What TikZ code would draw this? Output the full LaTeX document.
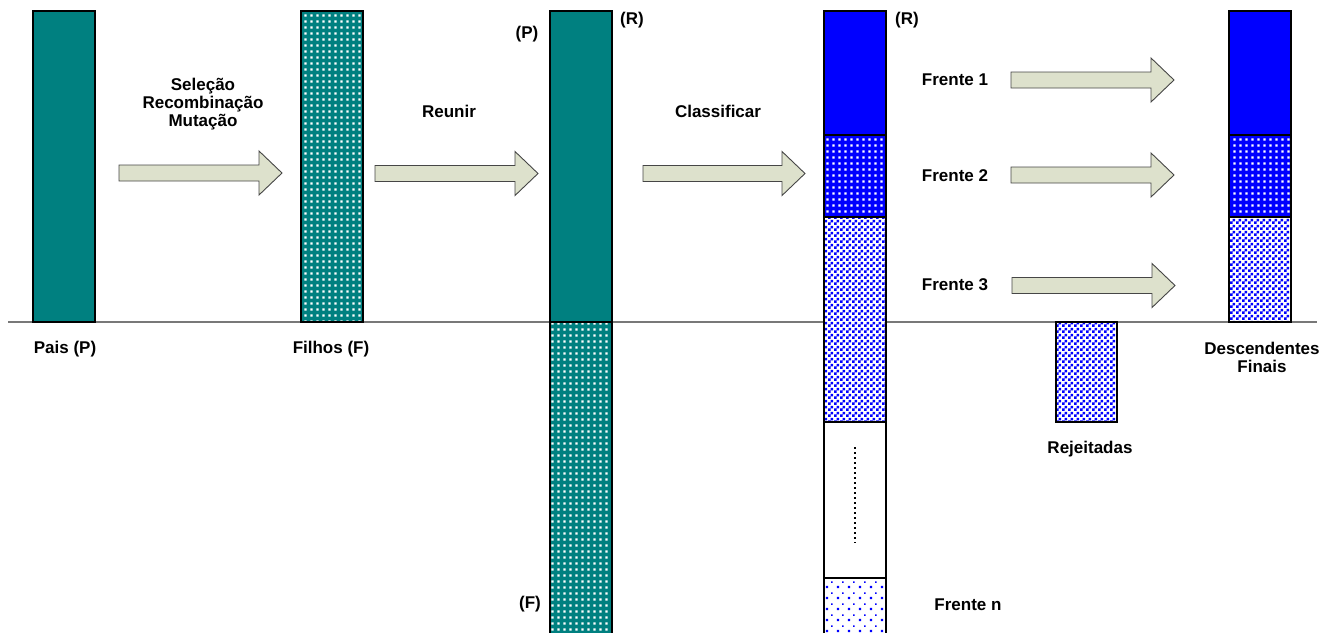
\documentclass[tikz,border=0pt]{standalone}
\usepackage{fontspec}
\setmainfont{Liberation Sans}
\usetikzlibrary{patterns}

\definecolor{parentteal}{RGB}{0,128,128}
\definecolor{frontblue}{RGB}{0,0,255}
\definecolor{arrowfill}{RGB}{221,225,204}
\definecolor{arrowline}{RGB}{70,70,70}
\definecolor{axisgray}{RGB}{120,120,120}

% fill patterns for the populations
\pgfdeclarepatternformonly{whitegrid}{\pgfqpoint{0pt}{0pt}}{\pgfqpoint{5.5pt}{5.5pt}}{\pgfqpoint{5.5pt}{5.5pt}}{%
  \pgfpathrectangle{\pgfqpoint{1.5pt}{1.5pt}}{\pgfqpoint{2.5pt}{2.5pt}}\pgfusepath{fill}}
\pgfdeclarepatternformonly{bluechecker}{\pgfqpoint{0pt}{0pt}}{\pgfqpoint{6pt}{6pt}}{\pgfqpoint{6pt}{6pt}}{%
  \pgfpathrectangle{\pgfqpoint{0pt}{0pt}}{\pgfqpoint{3pt}{3pt}}%
  \pgfpathrectangle{\pgfqpoint{3pt}{3pt}}{\pgfqpoint{3pt}{3pt}}\pgfusepath{fill}}
\pgfdeclarepatternformonly{sparsedots}{\pgfqpoint{0pt}{0pt}}{\pgfqpoint{11pt}{11pt}}{\pgfqpoint{11pt}{11pt}}{%
  \pgfpathrectangle{\pgfqpoint{1pt}{1pt}}{\pgfqpoint{2.4pt}{2.4pt}}%
  \pgfpathrectangle{\pgfqpoint{6.5pt}{6.5pt}}{\pgfqpoint{1.6pt}{1.6pt}}\pgfusepath{fill}}

\tikzset{
  popbox/.style={draw=black, line width=2pt, inner sep=0pt, outer sep=0pt, minimum width=62pt},
  parents/.style={popbox, fill=parentteal},
  offspring/.style={popbox, preaction={fill=parentteal}, pattern=whitegrid, pattern color=white},
  front one/.style={popbox, fill=frontblue},
  front two/.style={popbox, preaction={fill=frontblue}, pattern=whitegrid, pattern color=white},
  front three/.style={popbox, preaction={fill=white}, pattern=bluechecker, pattern color=frontblue},
  front last/.style={popbox, preaction={fill=white}, pattern=sparsedots, pattern color=frontblue},
  txt/.style={font=\fontsize{17}{18}\selectfont\bfseries, align=center, inner sep=0pt},
  pics/fatarrow/.style={code={
    \draw[draw=arrowline, fill=arrowfill, line width=0.9pt, line join=miter]
      (0,-8) -- (#1-23,-8) -- (#1-23,-22) -- (#1,0) -- (#1-23,22) -- (#1-23,8) -- (0,8) -- cycle;
  }}
}

\begin{document}
\begin{tikzpicture}[x=1pt, y=-1pt]
\clip (0,0) rectangle (1337,632);

% base line
\coordinate (axisL) at (8,322);
\coordinate (axisR) at (1317,322);
\draw[axisgray, line width=1.5pt] (axisL) -- (axisR);

% parents and offspring
\node[parents, minimum height=311pt] (pais) at (64,166.5) {};
\node[offspring, minimum height=311pt] (filhos) at (332,166.5) {};

% joined population R
\node[parents, minimum height=311pt] (rP) at (581,166.5) {};
\node[offspring, minimum height=318pt] (rF) at (581,481) {};

% sorted population R
\node[front one, minimum height=124pt] (r1) at (855,73) {};
\node[front two, minimum height=82pt] (r2) at (855,176) {};
\node[front three, minimum height=205pt] (r3) at (855,319.5) {};
\node[popbox, fill=white, minimum height=156pt] (rdots) at (855,500) {};
\node[front last, minimum height=62pt] (rn) at (855,609) {};
\draw[line width=2pt, dash pattern=on 1.6pt off 3.4pt] ([yshift=53pt]rdots.center) -- ([yshift=-43pt]rdots.center);

% rejected part and new population
\node[front three, minimum width=61pt, minimum height=100pt] (rej) at (1086.5,372) {};
\node[front one, minimum height=124pt] (d1) at (1260,73) {};
\node[front two, minimum height=82pt] (d2) at (1260,176) {};
\node[front three, minimum height=105pt] (d3) at (1260,269.5) {};

% arrows
\pic at (119,173) {fatarrow=163};
\pic at (375,173.5) {fatarrow=163};
\pic at (643,173.5) {fatarrow=162};
\pic at (1011,80) {fatarrow=163};
\pic at (1011,175) {fatarrow=163};
\pic at (1012,285.5) {fatarrow=163};

% texts
\node[txt] (opslbl) at (203,104) {Seleção\\Recombinação\\Mutação};
\node[txt] (reunir) at (449,111) {Reunir};
\node[txt] (classif) at (718,111) {Classificar};
\node[txt] (paislbl) at (65,349) {Pais (P)};
\node[txt] (filhoslbl) at (331,349) {Filhos (F)};
\node[txt] (plbl) at (527,34) {(P)};
\node[txt] (flbl) at (530,604) {(F)};
\node[txt] (rlbl) at (632,20) {(R)};
\node[txt] (rlbl2) at (907,20) {(R)};
\node[txt] (fr1) at (955,80) {Frente 1};
\node[txt] (fr2) at (955,176) {Frente 2};
\node[txt] (fr3) at (955,285) {Frente 3};
\node[txt] (frn) at (968,605) {Frente n};
\node[txt] (rejlbl) at (1090,449) {Rejeitadas};
\node[txt] (desclbl) at (1262,357) {Descendentes\\Finais};
\end{tikzpicture}
\end{document}
